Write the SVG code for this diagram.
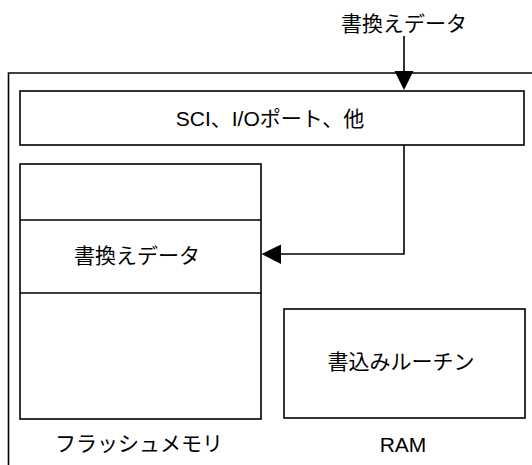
<svg xmlns="http://www.w3.org/2000/svg" width="532" height="465" viewBox="0 0 532 465">
  <style>
    .box { fill: #fff; stroke: #000; stroke-width: 1.6; }
    .wire { fill: none; stroke: #000; stroke-width: 1.6; }
    .head { fill: #000; stroke: none; }
    text { font-family: "Liberation Sans", "Noto Sans CJK JP", sans-serif; font-size: 21px; fill: #000; text-anchor: middle; }
  </style>
  <rect width="532" height="465" fill="#fff"/>

  <!-- microcontroller outline (continues past the right and bottom edges) -->
  <g id="mcu">
    <path class="wire" d="M 533 73 H 8.5 V 466"/>
  </g>

  <g id="io">
    <rect class="box" x="20" y="91" width="504" height="54"/>
    <text x="270" y="125.5">SCI、I/Oポート、他</text>
  </g>

  <g id="flash">
    <rect class="box" x="20" y="164" width="241" height="255"/>
    <line class="wire" x1="20" y1="220" x2="261" y2="220"/>
    <line class="wire" x1="20" y1="293" x2="261" y2="293"/>
    <text x="137" y="263">書換えデータ</text>
    <text x="139" y="451">フラッシュメモリ</text>
  </g>

  <g id="ram">
    <rect class="box" x="284" y="309" width="241" height="109"/>
    <text x="401" y="369">書込みルーチン</text>
    <text x="403" y="451.5">RAM</text>
  </g>

  <g id="input-label">
    <text x="404" y="31">書換えデータ</text>
  </g>

  <g id="connectors">
    <line class="wire" x1="404" y1="36" x2="404" y2="72"/>
    <polygon class="head" points="394.5,71 413.5,71 404,90"/>
    <polyline class="wire" points="404,145 404,254 280,254"/>
    <polygon class="head" points="281,244.5 281,264 261.5,254"/>
  </g>
</svg>
